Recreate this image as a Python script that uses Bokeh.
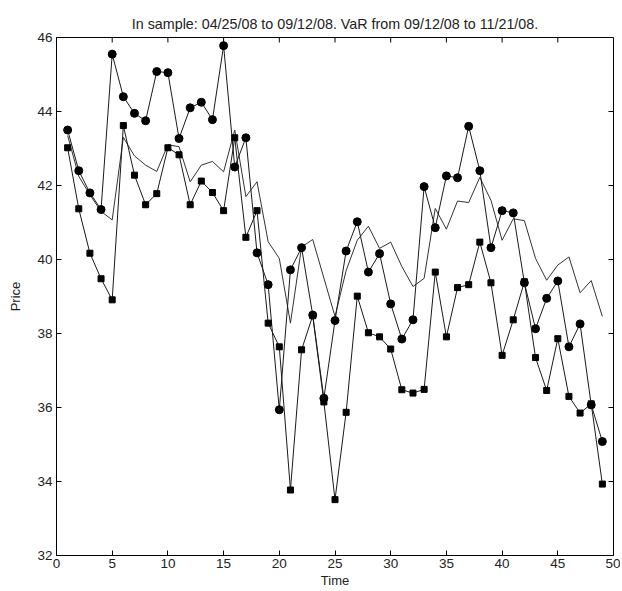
import math
from bokeh.plotting import figure
from bokeh.models import FixedTicker, Range1d
from bokeh.embed import file_html
from bokeh.resources import INLINE

time = list(range(1, 50))
upper = [43.5, 42.4, 41.8, 41.35, 45.55, 44.4, 43.95, 43.75, 45.08, 45.05,
         43.27, 44.1, 44.25, 43.78, 45.78, 42.5, 43.29, 40.18, 39.32, 35.94,
         39.72, 40.32, 38.5, 36.25, 38.35, 40.23, 41.02, 39.66, 40.16, 38.8,
         37.85, 38.37, 41.97, 40.86, 42.26, 42.21, 43.6, 42.4, 40.32, 41.32,
         41.26, 39.37, 38.13, 38.95, 39.42, 37.64, 38.26, 36.07, 35.08]
lower = [43.02, 41.37, 40.17, 39.48, 38.91, 43.62, 42.28, 41.48, 41.78, 43.02,
         42.83, 41.48, 42.12, 41.81, 41.32, 43.29, 40.6, 41.32, 38.28, 37.64,
         33.77, 37.56, 38.48, 36.15, 33.51, 35.87, 39.01, 38.02, 37.91, 37.58,
         36.48, 36.39, 36.49, 39.66, 37.91, 39.24, 39.32, 40.47, 39.37, 37.41,
         38.37, 39.4, 37.35, 36.46, 37.86, 36.3, 35.85, 36.1, 33.93]
price = [43.35, 42.25, 41.75, 41.3, 41.07, 43.3, 42.8, 42.55, 42.38, 43.1,
         43.05, 42.1, 42.55, 42.65, 42.37, 43.5, 41.7, 42.1, 40.48, 40.03,
         38.28, 40.34, 40.54, 39.5, 38.46, 39.7, 40.52, 40.9, 40.3, 40.47,
         39.81, 39.27, 39.49, 41.38, 40.82, 41.58, 41.54, 42.22, 41.6, 40.52,
         41.1, 41.05, 40.03, 39.44, 39.85, 40.07, 39.1, 39.43, 38.46]

x_ticks = list(range(0, 51, 5))
y_ticks = list(range(32, 47, 2))
x_min, x_max = 0, 50
y_min, y_max = 32, 46

FONT = "Liberation Sans"
TXT = "#222222"

p = figure(width=620, height=590, output_backend="svg", toolbar_location=None,
           x_range=Range1d(x_min, x_max), y_range=Range1d(y_min, y_max),
           title="In sample: 04/25/08 to 09/12/08. VaR from 09/12/08 to 11/21/08.",
           min_border_left=56, min_border_right=7, min_border_top=37, min_border_bottom=31)
p.title.align = "center"
p.title.text_font = FONT
p.title.text_font_size = "14.3px"
p.title.text_font_style = "normal"
p.title.text_color = TXT
p.title.standoff = 12
p.grid.visible = False
p.outline_line_color = "black"
p.outline_line_width = 1
p.background_fill_color = "white"
p.border_fill_color = "white"

for ax in [p.xaxis[0], p.yaxis[0]]:
    ax.major_tick_in = 5
    ax.major_tick_out = 0
    ax.minor_tick_in = 0
    ax.minor_tick_out = 0
    ax.major_label_text_font = FONT
    ax.major_label_text_font_size = "13.5px"
    ax.major_label_text_color = TXT
    ax.axis_label_text_font = FONT
    ax.axis_label_text_font_size = "13px"
    ax.axis_label_text_font_style = "normal"
    ax.axis_label_text_color = TXT
    ax.axis_line_color = "black"
    ax.major_tick_line_color = "black"

p.xaxis[0].ticker = FixedTicker(ticks=x_ticks)
p.yaxis[0].ticker = FixedTicker(ticks=y_ticks)
p.xaxis[0].axis_label = "Time"
p.yaxis[0].axis_label = "Price"
p.xaxis[0].major_label_standoff = 3
p.xaxis[0].axis_label_standoff = 2
p.yaxis[0].major_label_standoff = 4
p.yaxis[0].axis_label_standoff = 11

# inward tick marks on the top and right edges of the box
p.ray(x=x_ticks, y=[y_max] * len(x_ticks), length=5, length_units="screen",
      angle=-math.pi / 2, line_color="black", line_width=1)
p.ray(x=[x_max] * len(y_ticks), y=y_ticks, length=5, length_units="screen",
      angle=math.pi, line_color="black", line_width=1)

lc = "#1a1a1a"
p.line(time, price, line_color="#333333", line_width=1)
p.line(time, upper, line_color=lc, line_width=1)
p.scatter(time, upper, marker="circle", size=8, fill_color="black", line_color="black")
p.line(time, lower, line_color=lc, line_width=1)
p.scatter(time, lower, marker="square", size=6, fill_color="black", line_color="black")

open("out.html", "w").write(file_html(p, INLINE))
